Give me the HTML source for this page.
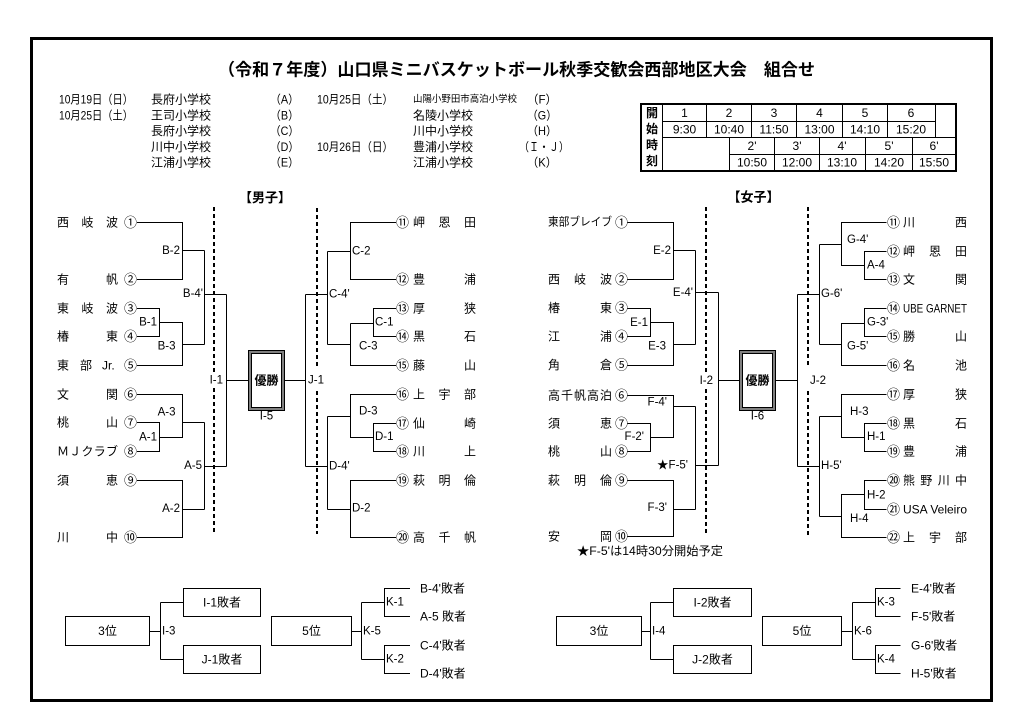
<!DOCTYPE html>
<html><head><meta charset="utf-8">
<style>
html,body{margin:0;padding:0;background:#fff;}
svg{display:block;}
.t{font-family:"Liberation Sans","Noto Sans CJK JP",sans-serif;font-size:12px;fill:#000;dominant-baseline:central;}
.n{font-family:"Liberation Sans","Noto Sans CJK JP",sans-serif;font-size:13px;fill:#000;dominant-baseline:central;}
.l{font-family:"Liberation Sans","Noto Sans CJK JP",sans-serif;font-size:11.5px;fill:#000;dominant-baseline:central;}
.b{font-weight:bold;}
.ln{fill:none;stroke:#000;stroke-width:1;}
.ds{fill:none;stroke:#000;stroke-width:2;stroke-dasharray:4 3;}
</style></head>
<body>
<svg width="1024" height="726" viewBox="0 0 1024 726" xmlns="http://www.w3.org/2000/svg">
<rect x="0" y="0" width="1024" height="726" fill="#fff"/>
<rect x="31.5" y="38.5" width="960" height="662" fill="none" stroke="#000" stroke-width="3"/>

<!-- Title -->
<text class="t b" x="218" y="70" style="font-size:17px" textLength="597" lengthAdjust="spacingAndGlyphs">（令和７年度）山口県ミニバスケットボール秋季交歓会西部地区大会　組合せ</text>

<!-- Info -->
<text class="t" x="59" y="99.5" textLength="74" lengthAdjust="spacingAndGlyphs">10月19日（日）</text>
<text class="t" x="151" y="99.5">長府小学校</text>
<text class="t" x="270" y="99.5" textLength="29" lengthAdjust="spacingAndGlyphs">（A）</text>
<text class="t" x="59" y="115.5" textLength="74" lengthAdjust="spacingAndGlyphs">10月25日（土）</text>
<text class="t" x="151" y="115.5">王司小学校</text>
<text class="t" x="270" y="115.5" textLength="29" lengthAdjust="spacingAndGlyphs">（B）</text>
<text class="t" x="151" y="131">長府小学校</text>
<text class="t" x="270" y="131" textLength="29" lengthAdjust="spacingAndGlyphs">（C）</text>
<text class="t" x="151" y="147">川中小学校</text>
<text class="t" x="270" y="147" textLength="29" lengthAdjust="spacingAndGlyphs">（D）</text>
<text class="t" x="151" y="162.5">江浦小学校</text>
<text class="t" x="270" y="162.5" textLength="29" lengthAdjust="spacingAndGlyphs">（E）</text>

<text class="t" x="317" y="99.5" textLength="76" lengthAdjust="spacingAndGlyphs">10月25日（土）</text>
<text class="t" x="413" y="99.5" style="font-size:9.5px" textLength="104" lengthAdjust="spacingAndGlyphs">山陽小野田市高泊小学校</text>
<text class="t" x="527" y="99.5" textLength="30" lengthAdjust="spacingAndGlyphs">（F）</text>
<text class="t" x="413" y="115.5">名陵小学校</text>
<text class="t" x="527" y="115.5" textLength="30" lengthAdjust="spacingAndGlyphs">（G）</text>
<text class="t" x="413" y="131">川中小学校</text>
<text class="t" x="527" y="131" textLength="30" lengthAdjust="spacingAndGlyphs">（H）</text>
<text class="t" x="317" y="147" textLength="76" lengthAdjust="spacingAndGlyphs">10月26日（日）</text>
<text class="t" x="413" y="147">豊浦小学校</text>
<text class="t" x="519" y="147" textLength="50" lengthAdjust="spacingAndGlyphs">（Ｉ・Ｊ）</text>
<text class="t" x="413" y="162.5">江浦小学校</text>
<text class="t" x="527" y="162.5" textLength="30" lengthAdjust="spacingAndGlyphs">（K）</text>

<!-- Schedule table -->
<rect x="641" y="104" width="315" height="67" fill="none" stroke="#000" stroke-width="2"/>
<path class="ln" d="M662.5 104V171 M662.5 121.5H935 M662.5 137.5H956 M729.5 154.5H956
M706.5 104V137.5 M751.5 104V137.5 M796.5 104V137.5 M842.5 104V137.5 M887.5 104V137.5 M935.5 104V137.5
M729.5 137.5V171 M774.5 137.5V171 M819.5 137.5V171 M865.5 137.5V171 M912.5 137.5V171"/>
<g text-anchor="middle">
<text class="t b" x="652" y="113">開</text>
<text class="t b" x="652" y="129">始</text>
<text class="t b" x="652" y="145">時</text>
<text class="t b" x="652" y="161">刻</text>
</g>
<g text-anchor="middle">
<text class="t" x="684.5" y="113">1</text>
<text class="t" x="729" y="113">2</text>
<text class="t" x="774" y="113">3</text>
<text class="t" x="819.5" y="113">4</text>
<text class="t" x="865" y="113">5</text>
<text class="t" x="911" y="113">6</text>
<text class="t" x="684.5" y="129.5">9:30</text>
<text class="t" x="729" y="129.5">10:40</text>
<text class="t" x="774" y="129.5">11:50</text>
<text class="t" x="819.5" y="129.5">13:00</text>
<text class="t" x="865" y="129.5">14:10</text>
<text class="t" x="911" y="129.5">15:20</text>
<text class="t" x="752" y="146">2'</text>
<text class="t" x="797" y="146">3'</text>
<text class="t" x="842" y="146">4'</text>
<text class="t" x="889" y="146">5'</text>
<text class="t" x="934" y="146">6'</text>
<text class="t" x="752" y="162.5">10:50</text>
<text class="t" x="797" y="162.5">12:00</text>
<text class="t" x="842" y="162.5">13:10</text>
<text class="t" x="889" y="162.5">14:20</text>
<text class="t" x="934" y="162.5">15:50</text>
</g>

<!-- Section headers -->
<text class="t b" x="265" y="197.5" text-anchor="middle" style="font-size:13px">【男子】</text>
<text class="t b" x="753.5" y="197" text-anchor="middle" style="font-size:13px">【女子】</text>

<!-- Dashed lines -->
<path class="ds" d="M214 207V374 M214 388V535 M317 208V366 M317 391V534 M706 207V373 M706 389V535 M808 207V365 M808 391V535"/>

<!-- Men bracket lines -->
<path class="ln" d="M137 222.5H182.5V279.5H137 M182.5 250.5H204.5
M137 308.5H159.5V336.5H137 M159.5 322.5H182.5V365.5H137 M182.5 344.5H204.5
M204.5 250.5V344.5 M204.5 294.5H226.5
M137 394.5H182.5V437.5H159.5 M137 422.5H159.5V451.5H137 M182.5 422.5H204.5
M137 480.5H182.5V537.5H137 M182.5 509.5H204.5
M204.5 422.5V509.5 M204.5 466.5H226.5
M226.5 294.5V466.5 M226.5 380.5H248.5
M284.5 380.5H305.5 M305.5 294.5V466.5
M305.5 294.5H327.5 M327.5 251.5V344.5 M327.5 251.5H350.5
M396 222.5H350.5V279.5H396
M327.5 344.5H350.5 M350.5 323.5V365.5H396 M350.5 323.5H373.5
M396 308.5H373.5V336.5H396
M305.5 466.5H327.5 M327.5 416.5V509.5 M327.5 416.5H350.5
M396 394.5H350.5V437.5H373.5 M396 423.5H373.5V451.5H396
M327.5 509.5H350.5 M396 480.5H350.5V537.5H396"/>

<!-- Women bracket lines -->
<path class="ln" d="M627.5 222.5H673.5V279.5H627.5 M673.5 250.5H695.5
M627.5 308.5H650.5V336.5H627.5 M650.5 322.5H673.5V365.5H627.5 M673.5 344.5H695.5
M695.5 250.5V344.5 M695.5 292.5H718.5 M718.5 292.5V465.5 M718.5 380.5H739.5
M627.5 395.5H673.5V437.5H650.5 M627.5 423.5H650.5V451.5H627.5 M673.5 406.5H695.5
M695.5 406.5V509.5 M695.5 465.5H718.5
M627.5 480.5H673.5V536.5H627.5 M673.5 509.5H695.5
M775.5 380.5H797.5 M797.5 294.5V466.5
M797.5 294.5H819.5 M819.5 244.5V344.5 M819.5 244.5H841.5
M886.5 222.5H841.5V265.5H864.5 M886.5 251.5H864.5V279.5H886.5
M819.5 344.5H841.5 M886.5 365.5H841.5V323.5H864.5 M886.5 308.5H864.5V336.5H886.5
M797.5 466.5H819.5 M819.5 416.5V516.5 M819.5 416.5H841.5
M886.5 394.5H841.5V437.5H864.5 M886.5 423.5H864.5V451.5H886.5
M819.5 516.5H841.5 M886.5 537.5H841.5V494.5H864.5 M886.5 480.5H864.5V509.5H886.5"/>

<!-- Champion boxes -->
<rect x="248.5" y="350.5" width="36" height="60" fill="#fff" stroke="#000" stroke-width="1"/>
<rect x="250" y="352" width="33" height="57" fill="none" stroke="#808080" stroke-width="2"/>
<rect x="251.5" y="353.5" width="30" height="54" fill="none" stroke="#000" stroke-width="1"/>
<text class="t b" x="266.5" y="380.5" text-anchor="middle">優勝</text>
<text class="l" x="266.5" y="416.5" text-anchor="middle">I-5</text>

<rect x="739.5" y="350.5" width="36" height="60" fill="#fff" stroke="#000" stroke-width="1"/>
<rect x="741" y="352" width="33" height="57" fill="none" stroke="#808080" stroke-width="2"/>
<rect x="742.5" y="353.5" width="30" height="54" fill="none" stroke="#000" stroke-width="1"/>
<text class="t b" x="757.5" y="380.5" text-anchor="middle">優勝</text>
<text class="l" x="757.5" y="416.5" text-anchor="middle">I-6</text>

<!-- Men labels -->
<g text-anchor="end">
<text class="l" x="180" y="251">B-2</text>
<text class="l" x="157" y="322.5">B-1</text>
<text class="l" x="175.5" y="346.5">B-3</text>
<text class="l" x="203" y="294">B-4'</text>
<text class="l" x="175.5" y="412.5">A-3</text>
<text class="l" x="157" y="437.5">A-1</text>
<text class="l" x="202" y="466">A-5</text>
<text class="l" x="180" y="509">A-2</text>
<text class="l" x="223" y="380.5">I-1</text>
</g>
<text class="l" x="308" y="380.5">J-1</text>
<text class="l" x="329" y="294.5">C-4'</text>
<text class="l" x="352" y="251.5">C-2</text>
<text class="l" x="359" y="346.5">C-3</text>
<text class="l" x="375" y="322.5">C-1</text>
<text class="l" x="329" y="466.5">D-4'</text>
<text class="l" x="359" y="411.5">D-3</text>
<text class="l" x="375" y="437">D-1</text>
<text class="l" x="352" y="508.5">D-2</text>

<!-- Women labels -->
<g text-anchor="end">
<text class="l" x="671" y="251">E-2</text>
<text class="l" x="648" y="323">E-1</text>
<text class="l" x="666" y="346.5">E-3</text>
<text class="l" x="693" y="293">E-4'</text>
<text class="l" x="667" y="402.5">F-4'</text>
<text class="l" x="644" y="437">F-2'</text>
<text class="l" x="688" y="465.5">★F-5'</text>
<text class="l" x="667" y="508">F-3'</text>
<text class="l" x="713" y="381">I-2</text>
</g>
<text class="l" x="810" y="381">J-2</text>
<text class="l" x="821" y="294">G-6'</text>
<text class="l" x="847" y="240">G-4'</text>
<text class="l" x="867" y="265.5">A-4</text>
<text class="l" x="847" y="346.5">G-5'</text>
<text class="l" x="867" y="322.5">G-3'</text>
<text class="l" x="821" y="466">H-5'</text>
<text class="l" x="850" y="412">H-3</text>
<text class="l" x="867" y="437">H-1</text>
<text class="l" x="850" y="519">H-4</text>
<text class="l" x="867" y="495.5">H-2</text>

<!-- Men left names -->
<text class="t" x="57 81.5 106" y="222.5">西岐波</text>
<text class="t" x="57 106" y="279.5">有帆</text>
<text class="t" x="57 81.5 106" y="308.5">東岐波</text>
<text class="t" x="57 106" y="336.5">椿東</text>
<text class="t" x="57 80" y="365.5">東部</text>
<text class="t" x="102" y="365.5">Jr.</text>
<text class="t" x="57 106" y="394.5">文関</text>
<text class="t" x="57 106" y="422.5">桃山</text>
<text class="t" x="57 69.25 81.5 93.75 106" y="451.5">ＭＪクラブ</text>
<text class="t" x="57 106" y="480.5">須恵</text>
<text class="t" x="57 106" y="537.5">川中</text>
<text class="n" x="124" y="222.5">①</text>
<text class="n" x="124" y="279.5">②</text>
<text class="n" x="124" y="308.5">③</text>
<text class="n" x="124" y="336.5">④</text>
<text class="n" x="124" y="365.5">⑤</text>
<text class="n" x="124" y="394.5">⑥</text>
<text class="n" x="124" y="422.5">⑦</text>
<text class="n" x="124" y="451.5">⑧</text>
<text class="n" x="124" y="480.5">⑨</text>
<text class="n" x="124" y="537.5">⑩</text>

<!-- Men right names -->
<text class="n" x="396" y="222.5">⑪</text>
<text class="n" x="396" y="279.5">⑫</text>
<text class="n" x="396" y="308.5">⑬</text>
<text class="n" x="396" y="336.5">⑭</text>
<text class="n" x="396" y="365.5">⑮</text>
<text class="n" x="396" y="394.5">⑯</text>
<text class="n" x="396" y="423.5">⑰</text>
<text class="n" x="396" y="451.5">⑱</text>
<text class="n" x="396" y="480.5">⑲</text>
<text class="n" x="396" y="537.5">⑳</text>
<text class="t" x="413 438.5 464" y="222.5">岬恩田</text>
<text class="t" x="413 464" y="279.5">豊浦</text>
<text class="t" x="413 464" y="308.5">厚狭</text>
<text class="t" x="413 464" y="336.5">黒石</text>
<text class="t" x="413 464" y="365.5">藤山</text>
<text class="t" x="413 438.5 464" y="394.5">上宇部</text>
<text class="t" x="413 464" y="423.5">仙崎</text>
<text class="t" x="413 464" y="451.5">川上</text>
<text class="t" x="413 438.5 464" y="480.5">萩明倫</text>
<text class="t" x="413 438.5 464" y="537.5">高千帆</text>

<!-- Women left names -->
<text class="t" x="548" y="222.5" style="font-size:11.5px" textLength="64" lengthAdjust="spacingAndGlyphs">東部ブレイブ</text>
<text class="t" x="548 574 600" y="279.5">西岐波</text>
<text class="t" x="548 600" y="308">椿東</text>
<text class="t" x="548 600" y="336.5">江浦</text>
<text class="t" x="548 600" y="365">角倉</text>
<text class="t" x="548 561 574 587 600" y="395.5">高千帆高泊</text>
<text class="t" x="548 600" y="423.5">須恵</text>
<text class="t" x="548 600" y="451.5">桃山</text>
<text class="t" x="548 574 600" y="480.5">萩明倫</text>
<text class="t" x="548 600" y="536.5">安岡</text>
<text class="n" x="615" y="222.5">①</text>
<text class="n" x="615" y="279.5">②</text>
<text class="n" x="615" y="308">③</text>
<text class="n" x="615" y="336.5">④</text>
<text class="n" x="615" y="365">⑤</text>
<text class="n" x="615" y="395.5">⑥</text>
<text class="n" x="615" y="423.5">⑦</text>
<text class="n" x="615" y="451.5">⑧</text>
<text class="n" x="615" y="480.5">⑨</text>
<text class="n" x="615" y="536.5">⑩</text>
<text class="t" x="577" y="551" textLength="146" lengthAdjust="spacingAndGlyphs">★F-5'は14時30分開始予定</text>

<!-- Women right names -->
<text class="n" x="887" y="222.5">⑪</text>
<text class="n" x="887" y="251.5">⑫</text>
<text class="n" x="887" y="279.5">⑬</text>
<text class="n" x="887" y="308.5">⑭</text>
<text class="n" x="887" y="336.5">⑮</text>
<text class="n" x="887" y="365.5">⑯</text>
<text class="n" x="887" y="394.5">⑰</text>
<text class="n" x="887" y="423.5">⑱</text>
<text class="n" x="887" y="451.5">⑲</text>
<text class="n" x="887" y="480.5">⑳</text>
<text class="n" x="887" y="509.5">㉑</text>
<text class="n" x="887" y="537.5">㉒</text>
<text class="t" x="903 955" y="222.5">川西</text>
<text class="t" x="903 929 955" y="251.5">岬恩田</text>
<text class="t" x="903 955" y="279.5">文関</text>
<text class="t" x="903" y="308.5" textLength="64" lengthAdjust="spacingAndGlyphs">UBE GARNET</text>
<text class="t" x="903 955" y="336.5">勝山</text>
<text class="t" x="903 955" y="365.5">名池</text>
<text class="t" x="903 955" y="394.5">厚狭</text>
<text class="t" x="903 955" y="423.5">黒石</text>
<text class="t" x="903 955" y="451.5">豊浦</text>
<text class="t" x="903 920.3 937.7 955" y="480.5">熊野川中</text>
<text class="t" x="903" y="509.5" textLength="64" lengthAdjust="spacingAndGlyphs">USA Veleiro</text>
<text class="t" x="903 929 955" y="537.5">上宇部</text>

<!-- Bottom -->
<g fill="none" stroke="#000" stroke-width="1">
<rect x="65.5" y="616.5" width="84" height="29"/>
<rect x="183.5" y="588.5" width="77" height="28"/>
<rect x="183.5" y="645.5" width="77" height="28"/>
<rect x="271.5" y="616.5" width="80" height="29"/>
<rect x="556.5" y="616.5" width="85" height="29"/>
<rect x="673.5" y="588.5" width="78" height="28"/>
<rect x="673.5" y="645.5" width="78" height="28"/>
<rect x="762.5" y="616.5" width="79" height="29"/>
</g>
<path class="ln" d="M149.5 631.5H160.5 M160.5 602.5V659.5 M160.5 602.5H183.5 M160.5 659.5H183.5
M351.5 631.5H361.5 M361.5 602.5V659.5 M361.5 602.5H384.5 M361.5 659.5H384.5
M410 588.5H384.5V616.5H410 M410 645.5H384.5V673.5H410
M641.5 631.5H650.5 M650.5 602.5V659.5 M650.5 602.5H673.5 M650.5 659.5H673.5
M841.5 631.5H852.5 M852.5 602.5V659.5 M852.5 602.5H875.5 M852.5 659.5H875.5
M900.5 588.5H875.5V616.5H900.5 M900.5 645.5H875.5V673.5H900.5"/>
<g text-anchor="middle">
<text class="t" x="107.5" y="631">3位</text>
<text class="t" x="222" y="602.5">I-1敗者</text>
<text class="t" x="222" y="659.5">J-1敗者</text>
<text class="t" x="311.5" y="631">5位</text>
<text class="t" x="599" y="631">3位</text>
<text class="t" x="712.5" y="602.5">I-2敗者</text>
<text class="t" x="712.5" y="659.5">J-2敗者</text>
<text class="t" x="802" y="631">5位</text>
</g>
<text class="l" x="162" y="631.5">I-3</text>
<text class="l" x="363" y="631.5">K-5</text>
<text class="l" x="386" y="602.5">K-1</text>
<text class="l" x="386" y="659.5">K-2</text>
<text class="t" x="420" y="588.5">B-4'敗者</text>
<text class="t" x="420" y="616.5">A-5 敗者</text>
<text class="t" x="420" y="645.5">C-4'敗者</text>
<text class="t" x="420" y="673.5">D-4'敗者</text>

<text class="l" x="652" y="631.5">I-4</text>
<text class="l" x="854" y="631.5">K-6</text>
<text class="l" x="877" y="602.5">K-3</text>
<text class="l" x="877" y="659.5">K-4</text>
<text class="t" x="911" y="588.5">E-4'敗者</text>
<text class="t" x="911" y="616.5">F-5'敗者</text>
<text class="t" x="911" y="645.5">G-6'敗者</text>
<text class="t" x="911" y="673.5">H-5'敗者</text>
</svg>
</body></html>
